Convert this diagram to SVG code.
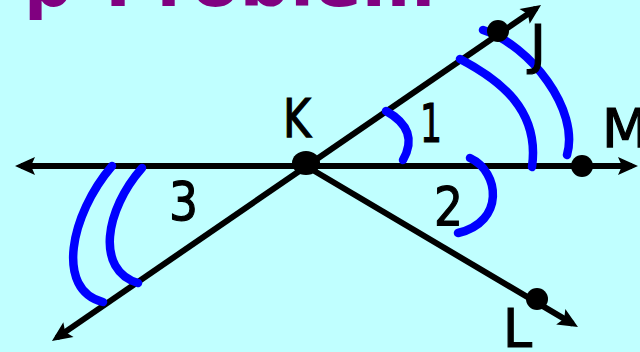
<svg xmlns="http://www.w3.org/2000/svg" width="640" height="352" viewBox="0 0 640 352">
  <defs>
    <marker id="arrow" markerUnits="userSpaceOnUse" markerWidth="20" markerHeight="18" refX="14" refY="9" orient="auto" overflow="visible">
      <path d="M0,0 L20,9 L0,18 L4,9 z" fill="#000"/>
    </marker>
    <style>
      .ray { stroke: #000; stroke-width: 6; fill: none; marker-end: url(#arrow); }
      .arc { stroke: #0000ff; stroke-width: 8.5; fill: none; stroke-linecap: round; stroke-linejoin: round; }
      .pt { fill: #000; }
      .lbl { font-family: "DejaVu Sans", "Liberation Sans", sans-serif; font-size: 54px; fill: #000; stroke: #000; stroke-width: 1.2; }
      .title { font-family: "DejaVu Sans", "Liberation Sans", sans-serif; font-size: 68px; font-weight: bold; fill: #800080; }
    </style>
  </defs>
  <rect width="640" height="352" fill="#c0ffff"/>

  <text class="title" y="6"><tspan x="-45">u</tspan><tspan x="24">p</tspan><tspan x="105" textLength="330" lengthAdjust="spacingAndGlyphs">Problem</tspan></text>

  <g id="connectors">
    <line class="ray" x1="306" y1="166" x2="21" y2="166"/>
    <line class="ray" x1="306" y1="166" x2="632" y2="166"/>
    <line class="ray" x1="306" y1="166.5" x2="536.1" y2="8.4"/>
    <line class="ray" x1="306" y1="166.5" x2="56.9" y2="337.6"/>
    <line class="ray" x1="306" y1="166" x2="572.8" y2="323.9"/>
  </g>

  <g id="angle-marks">
    <path class="arc" d="M386,111 Q420,130 403,160"/>
    <path class="arc" d="M470,158 C500,172 505,222 458,233"/>
    <path class="arc" d="M460,59 C500,80 540,110 532,167"/>
    <path class="arc" d="M483,30 C530,45 580,110 567,155"/>
    <path class="arc" d="M112,166 C70,215 55,290 103,302"/>
    <path class="arc" d="M142,168 C105,210 95,270 138,283"/>
  </g>

  <g id="K"><ellipse class="pt" cx="306" cy="163" rx="14" ry="12"/><text class="lbl" x="283" y="137" textLength="28" lengthAdjust="spacingAndGlyphs">K</text></g>
  <g id="J"><circle class="pt" cx="498" cy="31" r="11"/><text class="lbl" x="530" y="63" font-size="50">J</text></g>
  <g id="M"><circle class="pt" cx="582" cy="166" r="11"/><text class="lbl" x="602" y="147">M</text></g>
  <g id="L"><circle class="pt" cx="537" cy="299" r="11"/><text class="lbl" x="503" y="347" textLength="29" lengthAdjust="spacingAndGlyphs">L</text></g>

  <g id="angle-labels">
    <text class="lbl" x="420" y="142" textLength="22" lengthAdjust="spacingAndGlyphs">1</text>
    <text class="lbl" x="434" y="225" textLength="29" lengthAdjust="spacingAndGlyphs">2</text>
    <text class="lbl" x="169" y="220" textLength="29" lengthAdjust="spacingAndGlyphs">3</text>
  </g>
</svg>
